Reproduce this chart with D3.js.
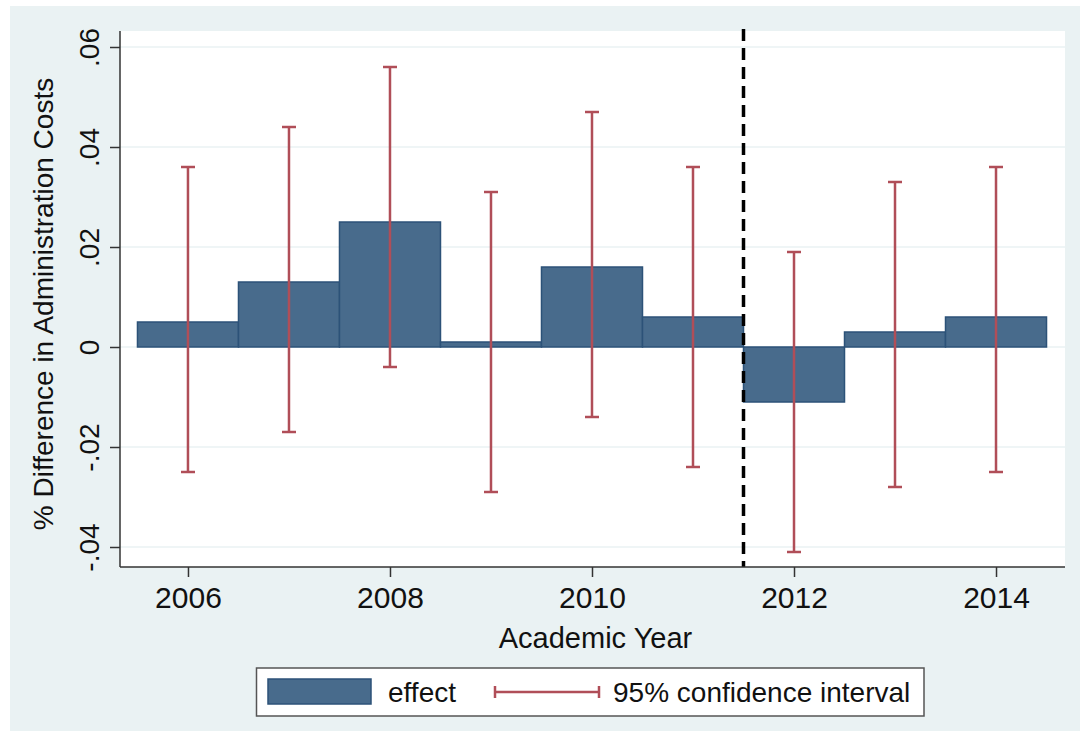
<!DOCTYPE html>
<html>
<head>
<meta charset="utf-8">
<script src="https://cdn.jsdelivr.net/npm/d3@7"></script>
<style>
  html, body { margin: 0; padding: 0; background: #ffffff; }
  svg { display: block; font-family: "Liberation Sans", Arial, sans-serif; }
</style>
</head>
<body>
<svg id="chart" width="1080" height="731"></svg>
<script>
// Estimated effects by academic year, with 95% confidence bounds
const years = [2006, 2007, 2008, 2009, 2010, 2011, 2012, 2013, 2014];
const effect = [0.005, 0.013, 0.025, 0.001, 0.016, 0.006, -0.011, 0.003, 0.006];
const ciLow  = [-0.025, -0.017, -0.004, -0.029, -0.014, -0.024, -0.041, -0.028, -0.025];
const ciHigh = [0.036, 0.044, 0.056, 0.031, 0.047, 0.036, 0.019, 0.033, 0.036];
const yTicks = [-0.04, -0.02, 0, 0.02, 0.04, 0.06];
const xTicks = [2006, 2008, 2010, 2012, 2014];
const cutoffYear = 2011.5;

const svg = d3.select("#chart");
const W = 1080, H = 731;
const plot = { left: 120, right: 1065, top: 31, bottom: 567 };

const x = d3.scaleLinear().domain([2005.327, 2014.683]).range([plot.left, plot.right]);
const y = d3.scaleLinear().domain([-0.044, 0.0632]).range([plot.bottom, plot.top]);

const bg = "#eaf2f3";
const barFill = "#486b8c", barStroke = "#2c5278";
const ciColor = "#b04e58";

// graph region
svg.append("rect").attr("x", 10).attr("y", 6).attr("width", W - 10).attr("height", H - 6).attr("fill", bg);
// plot region
svg.append("rect").attr("x", plot.left).attr("y", plot.top)
  .attr("width", plot.right - plot.left).attr("height", plot.bottom - plot.top).attr("fill", "#ffffff");

// horizontal grid lines
svg.append("g").selectAll("line").data(yTicks).join("line")
  .attr("x1", plot.left).attr("x2", plot.right)
  .attr("y1", d => y(d)).attr("y2", d => y(d))
  .attr("stroke", bg).attr("stroke-width", 1.5);

// bars: one year wide, from zero to the effect
const rows = years.map((yr, i) => ({ yr, eff: effect[i], lo: ciLow[i], hi: ciHigh[i] }));
svg.append("g").selectAll("rect").data(rows).join("rect")
  .attr("x", d => x(d.yr - 0.5))
  .attr("width", d => x(d.yr + 0.5) - x(d.yr - 0.5))
  .attr("y", d => y(Math.max(0, d.eff)))
  .attr("height", d => Math.abs(y(d.eff) - y(0)))
  .attr("fill", barFill).attr("stroke", barStroke).attr("stroke-width", 1.5);

// confidence intervals
const capHalf = 7;
const ci = svg.append("g").attr("stroke", ciColor).attr("stroke-width", 2.5).attr("fill", "none");
ci.selectAll("line.v").data(rows).join("line").attr("class", "v")
  .attr("x1", d => x(d.yr)).attr("x2", d => x(d.yr))
  .attr("y1", d => y(d.hi)).attr("y2", d => y(d.lo));
ci.selectAll("line.top").data(rows).join("line").attr("class", "top")
  .attr("x1", d => x(d.yr) - capHalf).attr("x2", d => x(d.yr) + capHalf)
  .attr("y1", d => y(d.hi)).attr("y2", d => y(d.hi));
ci.selectAll("line.bot").data(rows).join("line").attr("class", "bot")
  .attr("x1", d => x(d.yr) - capHalf).attr("x2", d => x(d.yr) + capHalf)
  .attr("y1", d => y(d.lo)).attr("y2", d => y(d.lo));

// policy cutoff
svg.append("line")
  .attr("x1", x(cutoffYear)).attr("x2", x(cutoffYear))
  .attr("y1", plot.top - 2).attr("y2", plot.bottom)
  .attr("stroke", "#000").attr("stroke-width", 3.5).attr("stroke-dasharray", "12 7");

// y axis (labels like ".02" and "-.04" with a plain hyphen)
const fmtY = d => d === 0 ? "0" : d.toFixed(2).replace("0.", ".");
const yAxis = svg.append("g").attr("transform", `translate(${plot.left},0)`)
  .call(d3.axisLeft(y).tickValues(yTicks).tickSize(10).tickFormat(fmtY));
yAxis.select(".domain").attr("stroke", "#333").attr("stroke-width", 1.5)
  .attr("d", `M0,${plot.top}V${plot.bottom}`);
yAxis.selectAll(".tick line").attr("stroke", "#333").attr("stroke-width", 1.5);
yAxis.selectAll(".tick text")
  .attr("x", null).attr("dy", null)
  .attr("transform", "translate(-21,0) rotate(-90)")
  .attr("text-anchor", "middle")
  .attr("font-size", 28).attr("font-family", "Liberation Sans, Arial, sans-serif")
  .attr("fill", "#111");

// x axis
const xAxis = svg.append("g").attr("transform", `translate(0,${plot.bottom})`)
  .call(d3.axisBottom(x).tickValues(xTicks).tickSize(10).tickFormat(d3.format("d")));
xAxis.select(".domain").attr("stroke", "#333").attr("stroke-width", 1.5)
  .attr("d", `M${plot.left},0H${plot.right}`);
xAxis.selectAll(".tick line").attr("stroke", "#333").attr("stroke-width", 1.5);
xAxis.selectAll(".tick text")
  .attr("y", 41).attr("dy", null)
  .attr("font-size", 30).attr("font-family", "Liberation Sans, Arial, sans-serif")
  .attr("fill", "#111");

// axis titles
svg.append("text")
  .attr("x", (plot.left + plot.right) / 2 + 3).attr("y", 648)
  .attr("text-anchor", "middle").attr("font-size", 29).attr("fill", "#111")
  .text("Academic Year");
svg.append("text")
  .attr("transform", "translate(53,304) rotate(-90)")
  .attr("text-anchor", "middle").attr("font-size", 28).attr("fill", "#111")
  .text("% Difference in Administration Costs");

// legend
const lg = svg.append("g");
lg.append("rect").attr("x", 256.5).attr("y", 668).attr("width", 667.5).attr("height", 48)
  .attr("fill", "#fff").attr("stroke", "#555").attr("stroke-width", 1.5);
lg.append("rect").attr("x", 268).attr("y", 679).attr("width", 103).attr("height", 25)
  .attr("fill", barFill).attr("stroke", barStroke).attr("stroke-width", 1.5);
lg.append("text").attr("x", 388).attr("y", 702).attr("font-size", 28).attr("fill", "#111").text("effect");
const lgCi = lg.append("g").attr("stroke", ciColor).attr("stroke-width", 2.5);
lgCi.append("line").attr("x1", 495).attr("x2", 599).attr("y1", 692).attr("y2", 692);
lgCi.append("line").attr("x1", 495).attr("x2", 495).attr("y1", 686).attr("y2", 698);
lgCi.append("line").attr("x1", 599).attr("x2", 599).attr("y1", 686).attr("y2", 698);
lg.append("text").attr("x", 613).attr("y", 702).attr("font-size", 28).attr("fill", "#111").text("95% confidence interval");
</script>
</body>
</html>
